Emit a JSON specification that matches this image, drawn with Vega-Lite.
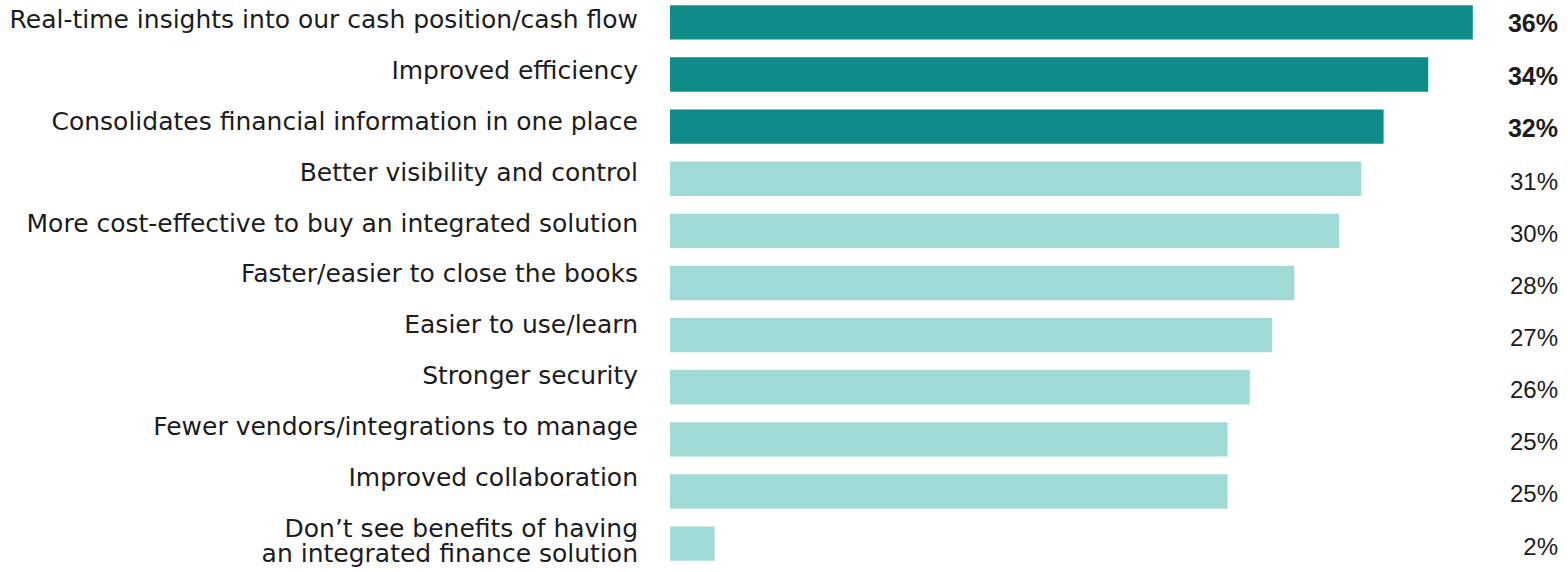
{
  "$schema": "https://vega.github.io/schema/vega-lite/v6.json",
  "width": 892,
  "height": 566,
  "autosize": "none",
  "padding": {"left": 670, "top": 0, "right": 6, "bottom": 6},
  "background": "white",
  "config": {"view": {"stroke": null}, "text": {"font": "Liberation Sans", "color": "#1c1c1c"}},
  "data": {"values": [
    {"label": "Real-time insights into our cash position/cash flow", "value": 0.36, "group": "top"},
    {"label": "Improved efficiency", "value": 0.34, "group": "top"},
    {"label": "Consolidates financial information in one place", "value": 0.32, "group": "top"},
    {"label": "Better visibility and  control", "value": 0.31, "group": "rest"},
    {"label": "More cost-effective to buy an integrated solution", "value": 0.30, "group": "rest"},
    {"label": "Faster/easier to close the books", "value": 0.28, "group": "rest"},
    {"label": "Easier to use/learn", "value": 0.27, "group": "rest"},
    {"label": "Stronger security", "value": 0.26, "group": "rest"},
    {"label": "Fewer vendors/integrations to manage", "value": 0.25, "group": "rest"},
    {"label": "Improved collaboration", "value": 0.25, "group": "rest"},
    {"label": "Don’t see benefits of having an integrated finance solution", "value": 0.02, "group": "none"}
  ]},
  "layer": [
    {
      "mark": {"type": "bar"},
      "encoding": {
        "y": {"field": "label", "type": "nominal", "sort": null, "scale": {"type": "band", "paddingInner": 0.34, "paddingOuter": 0.1}, "axis": null},
        "x": {"field": "value", "type": "quantitative", "scale": {"domain": [0, 0.4]}, "axis": null},
        "color": {"field": "group", "type": "nominal", "scale": {"domain": ["top", "rest", "none"], "range": ["#0F8C89", "#A0DAD7", "#A0DAD7"]}, "legend": null}
      }
    },
    {
      "transform": [{"filter": "datum.group == 'top'"}],
      "mark": {"type": "text", "align": "right", "baseline": "middle", "dx": -4, "dy": 2, "fontSize": 25, "fontWeight": "bold"},
      "encoding": {
        "y": {"field": "label", "type": "nominal", "sort": null, "scale": {"type": "band", "paddingInner": 0.34, "paddingOuter": 0.1, "domain": ["Real-time insights into our cash position/cash flow", "Improved efficiency", "Consolidates financial information in one place", "Better visibility and  control", "More cost-effective to buy an integrated solution", "Faster/easier to close the books", "Easier to use/learn", "Stronger security", "Fewer vendors/integrations to manage", "Improved collaboration", "Don’t see benefits of having an integrated finance solution"]}, "axis": null},
        "x": {"datum": 0.4},
        "text": {"field": "value", "type": "quantitative", "format": ".0%"}
      }
    },
    {
      "transform": [{"filter": "datum.group != 'top'"}],
      "mark": {"type": "text", "align": "right", "baseline": "middle", "dx": -4, "dy": 4, "fontSize": 24},
      "encoding": {
        "y": {"field": "label", "type": "nominal", "sort": null, "scale": {"type": "band", "paddingInner": 0.34, "paddingOuter": 0.1, "domain": ["Real-time insights into our cash position/cash flow", "Improved efficiency", "Consolidates financial information in one place", "Better visibility and  control", "More cost-effective to buy an integrated solution", "Faster/easier to close the books", "Easier to use/learn", "Stronger security", "Fewer vendors/integrations to manage", "Improved collaboration", "Don’t see benefits of having an integrated finance solution"]}, "axis": null},
        "x": {"datum": 0.4},
        "text": {"field": "value", "type": "quantitative", "format": ".0%"}
      }
    },
    {
      "transform": [{"filter": "datum.group != 'none'"}],
      "mark": {"type": "text", "align": "right", "baseline": "middle", "dx": -32, "fontSize": 25, "font": "DejaVu Sans"},
      "encoding": {
        "y": {"field": "label", "type": "nominal", "sort": null, "scale": {"type": "point", "padding": 0.56, "align": 0.35, "domain": ["Real-time insights into our cash position/cash flow", "Improved efficiency", "Consolidates financial information in one place", "Better visibility and  control", "More cost-effective to buy an integrated solution", "Faster/easier to close the books", "Easier to use/learn", "Stronger security", "Fewer vendors/integrations to manage", "Improved collaboration", "Don’t see benefits of having an integrated finance solution"]}, "axis": null},
        "x": {"datum": 0},
        "text": {"field": "label", "type": "nominal"}
      }
    },
    {
      "transform": [{"filter": "datum.group == 'none'"}],
      "mark": {"type": "text", "align": "right", "baseline": "middle", "dx": -32, "dy": -15, "fontSize": 25, "font": "DejaVu Sans", "lineHeight": 25, "text": ["Don’t see benefits of having", "an integrated finance solution"]},
      "encoding": {
        "y": {"field": "label", "type": "nominal", "sort": null, "scale": {"type": "band", "paddingInner": 0.34, "paddingOuter": 0.1, "domain": ["Real-time insights into our cash position/cash flow", "Improved efficiency", "Consolidates financial information in one place", "Better visibility and  control", "More cost-effective to buy an integrated solution", "Faster/easier to close the books", "Easier to use/learn", "Stronger security", "Fewer vendors/integrations to manage", "Improved collaboration", "Don’t see benefits of having an integrated finance solution"]}, "axis": null},
        "x": {"datum": 0}
      }
    }
  ],
  "resolve": {"scale": {"y": "independent"}}
}
